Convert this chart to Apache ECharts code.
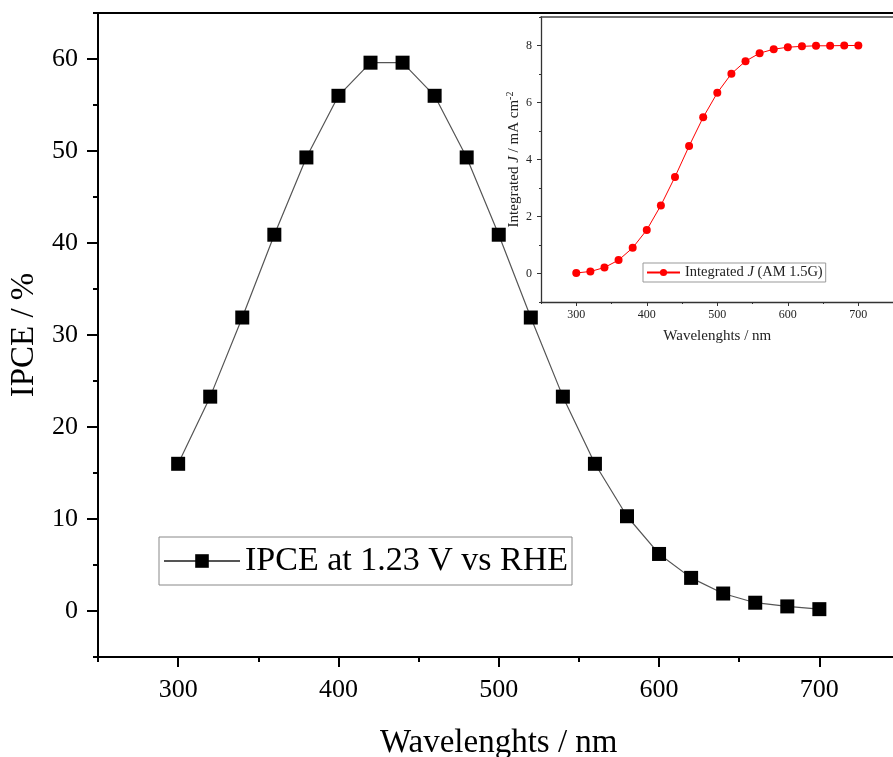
<!DOCTYPE html>
<html>
<head>
<meta charset="utf-8">
<script src="https://cdn.jsdelivr.net/npm/echarts@6/dist/echarts.min.js"></script>
<style>html,body{margin:0;padding:0;background:#fff}#c{width:893px;height:757px}</style>
</head>
<body>
<div id="c"></div>
<script>
const wavelengths = [300,320,340,360,380,400,420,440,460,480,500,520,540,560,580,600,620,640,660,680,700];
const ipceValues = [16.0,23.3,31.9,40.9,49.3,56.0,59.6,59.6,56.0,49.3,40.9,31.9,23.3,16.0,10.3,6.2,3.6,1.9,0.9,0.5,0.2];
const jValues = [0.02,0.07,0.21,0.47,0.90,1.53,2.39,3.39,4.47,5.48,6.34,7.01,7.45,7.73,7.87,7.94,7.97,7.99,7.99,8.0,8.0];
const mainXTicks = [300,400,500,600,700];
const mainXMinor = [250,350,450,550,650,750];
const mainYTicks = [0,10,20,30,40,50,60];
const mainYMinor = [-5,5,15,25,35,45,55,65];
const insetYTicks = [0,2,4,6,8];
const insetYMinor = [-1,1,3,5,7,9];
const ipceName = 'IPCE at 1.23 V vs RHE';
const jName = 'Integrated J (AM 1.5G)';

const FF = "'Liberation Serif','Times New Roman',serif";
const ipceData = wavelengths.map((w,i)=>[w, ipceValues[i]]);
const jData = wavelengths.map((w,i)=>[w, jValues[i]]);

const chart = echarts.init(document.getElementById('c'));
const blk = '#000', ig = '#333';
chart.setOption({
  animation:false,
  backgroundColor:'#fff',
  grid:[
    {left:98, top:13, width:801.5, height:644, outerBoundsMode:'none', containLabel:false},
    {left:541, top:17, width:352.6, height:285, outerBoundsMode:'none', containLabel:false}
  ],
  xAxis:[
    {gridIndex:0, type:'value', position:'bottom', min:250, max:750, interval:50,
     axisLine:{show:true, onZero:false, lineStyle:{color:blk, width:2}},
     axisTick:{show:true, customValues:mainXTicks, length:10, lineStyle:{color:blk, width:2}},
     axisLabel:{customValues:mainXTicks, fontFamily:FF, fontSize:26, color:blk, margin:20},
     splitLine:{show:false},
     name:'Wavelenghts / nm', nameLocation:'middle', nameGap:70,
     nameTextStyle:{fontFamily:FF, fontSize:33, color:blk}},
    {gridIndex:0, type:'value', position:'bottom', min:250, max:750, interval:50,
     axisLine:{show:false, onZero:false},
     axisTick:{show:true, customValues:mainXMinor, length:5, lineStyle:{color:blk, width:2}},
     axisLabel:{show:false}, splitLine:{show:false}},
    {gridIndex:0, type:'value', position:'top', min:250, max:750,
     axisLine:{show:true, onZero:false, lineStyle:{color:blk, width:2}},
     axisTick:{show:false}, axisLabel:{show:false}, splitLine:{show:false}},
    {gridIndex:1, type:'value', position:'bottom', min:250, max:750, interval:50,
     axisLine:{show:true, onZero:false, lineStyle:{color:ig, width:1.3}},
     axisTick:{show:true, customValues:mainXTicks, length:4, lineStyle:{color:ig, width:1}},
     axisLabel:{customValues:mainXTicks, fontFamily:FF, fontSize:12, color:'#222', margin:7},
     splitLine:{show:false},
     name:'Wavelenghts / nm', nameLocation:'middle', nameGap:27,
     nameTextStyle:{fontFamily:FF, fontSize:15, color:'#222'}},
    {gridIndex:1, type:'value', position:'bottom', min:250, max:750, interval:50,
     axisLine:{show:false, onZero:false},
     axisTick:{show:true, customValues:mainXMinor, length:2, lineStyle:{color:ig, width:1}},
     axisLabel:{show:false}, splitLine:{show:false}},
    {gridIndex:1, type:'value', position:'top', min:250, max:750,
     axisLine:{show:true, onZero:false, lineStyle:{color:'#444', width:1.5}},
     axisTick:{show:false}, axisLabel:{show:false}, splitLine:{show:false}}
  ],
  yAxis:[
    {gridIndex:0, type:'value', position:'left', min:-5, max:65, interval:5,
     axisLine:{show:true, onZero:false, lineStyle:{color:blk, width:2}},
     axisTick:{show:true, customValues:mainYTicks, length:11, lineStyle:{color:blk, width:2}},
     axisLabel:{customValues:mainYTicks, fontFamily:FF, fontSize:26, color:blk, margin:20},
     splitLine:{show:false},
     name:'IPCE / %', nameLocation:'middle', nameGap:51,
     nameTextStyle:{fontFamily:FF, fontSize:33, color:blk}},
    {gridIndex:0, type:'value', position:'left', min:-5, max:65, interval:5,
     axisLine:{show:false, onZero:false},
     axisTick:{show:true, customValues:mainYMinor, length:5, lineStyle:{color:blk, width:2}},
     axisLabel:{show:false}, splitLine:{show:false}},
    {gridIndex:1, type:'value', position:'left', min:-1, max:9, interval:1,
     axisLine:{show:true, onZero:false, lineStyle:{color:ig, width:1.3}},
     axisTick:{show:true, customValues:insetYTicks, length:4, lineStyle:{color:ig, width:1}},
     axisLabel:{customValues:insetYTicks, fontFamily:FF, fontSize:12, color:'#222', margin:9},
     splitLine:{show:false},
     name:'{a|Integrated }{i|J}{a| / mA cm}{s|-2}', nameLocation:'middle', nameGap:18,
     nameTextStyle:{fontFamily:FF, fontSize:15, color:'#222',
       rich:{a:{fontFamily:FF, fontSize:15, color:'#222'},
             i:{fontFamily:FF, fontSize:15, fontStyle:'italic', color:'#222'},
             s:{fontFamily:FF, fontSize:10, color:'#222', padding:[0,0,8,0]}}}},
    {gridIndex:1, type:'value', position:'left', min:-1, max:9, interval:1,
     axisLine:{show:false, onZero:false},
     axisTick:{show:true, customValues:insetYMinor, length:2, lineStyle:{color:ig, width:1}},
     axisLabel:{show:false}, splitLine:{show:false}}
  ],
  legend:[
    {data:[ipceName], left:159, top:537, orient:'horizontal',
     backgroundColor:'#fff', borderColor:'#888', borderWidth:1, borderRadius:0,
     padding:[7,4,7,4], itemWidth:76, itemHeight:17, itemGap:5,
     textStyle:{fontFamily:FF, fontSize:34, color:blk}},
    {data:[jName], left:643, top:263, orient:'horizontal',
     backgroundColor:'#fff', borderColor:'#999', borderWidth:1, borderRadius:0,
     padding:[2,3,2,3], itemWidth:33, itemHeight:9, itemGap:5,
     formatter:function(){return '{a|Integrated }{i|J}{a| (AM 1.5G)}';},
     textStyle:{fontFamily:FF, fontSize:15, color:'#222',
       rich:{a:{fontFamily:FF, fontSize:14.5, color:'#222'},
             i:{fontFamily:FF, fontSize:14.5, fontStyle:'italic', color:'#222'}}}}
  ],
  series:[
    {name:ipceName, type:'line', xAxisIndex:0, yAxisIndex:0, data:ipceData,
     symbol:'rect', symbolSize:14, showSymbol:true,
     lineStyle:{color:'#555', width:1.2}, itemStyle:{color:'#000'}, z:3},
    {name:jName, type:'line', xAxisIndex:3, yAxisIndex:2, data:jData,
     symbol:'circle', symbolSize:8, showSymbol:true,
     lineStyle:{color:'#ff0000', width:1}, itemStyle:{color:'#ff0000'}, z:4}
  ]
});
</script>
</body>
</html>
